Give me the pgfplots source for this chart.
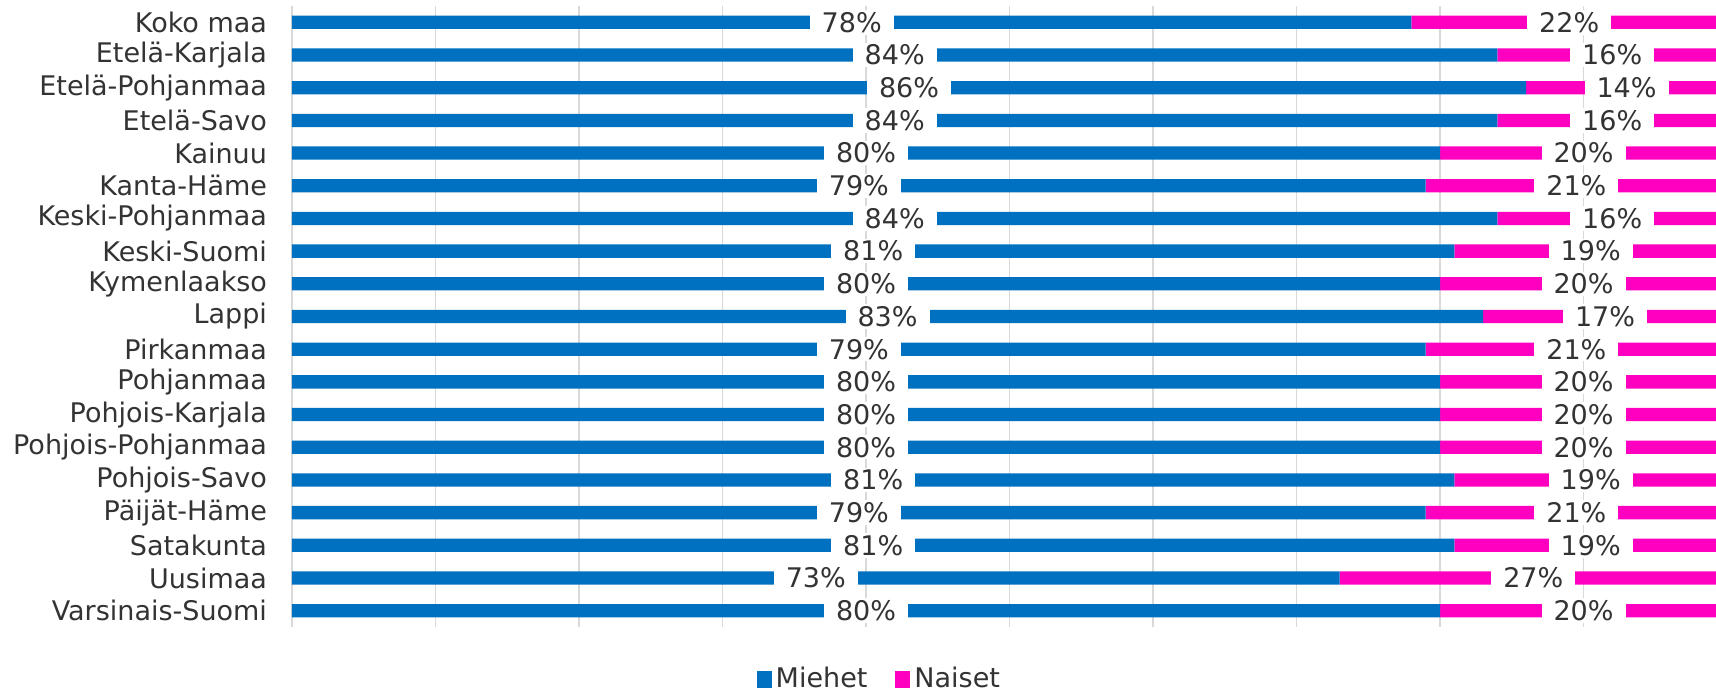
\documentclass[border=0pt]{standalone}
\usepackage{fontspec}
\setmainfont{DejaVu Sans}
\usepackage{pgfplots}
\usepackage{pgfplotstable}
\pgfplotsset{compat=1.18}

\definecolor{miehet}{HTML}{0070C0}
\definecolor{naiset}{HTML}{FF00C0}
\definecolor{gridgray}{HTML}{D9D9D9}
\definecolor{txt}{HTML}{333333}

% share of men (m) and women (n), per cent
\pgfplotstableread[col sep=comma, row sep=\\]{
y,name,m,n\\
0,Koko maa,78,22\\
1,Etelä-Karjala,84,16\\
2,Etelä-Pohjanmaa,86,14\\
3,Etelä-Savo,84,16\\
4,Kainuu,80,20\\
5,Kanta-Häme,79,21\\
6,Keski-Pohjanmaa,84,16\\
7,Keski-Suomi,81,19\\
8,Kymenlaakso,80,20\\
9,Lappi,83,17\\
10,Pirkanmaa,79,21\\
11,Pohjanmaa,80,20\\
12,Pohjois-Karjala,80,20\\
13,Pohjois-Pohjanmaa,80,20\\
14,Pohjois-Savo,81,19\\
15,Päijät-Häme,79,21\\
16,Satakunta,81,19\\
17,Uusimaa,73,27\\
18,Varsinais-Suomi,80,20\\
}\data

\begin{document}
\begin{tikzpicture}
\pgfplotsset{common/.style={
    width=717.5pt, height=310.5pt, scale only axis,
    xmin=0, xmax=100, ymin=-0.5, ymax=18.5, y dir=reverse,
    clip=false,
  },
  lbl/.style={
    only marks, mark=*, mark size=0pt, mark options={draw=none, fill=none},
    point meta=explicit,
    nodes near coords={\pgfmathprintnumber[assume math mode=true]{\pgfplotspointmeta}\%},
    every node near coord/.append style={anchor=center, fill=white,
      inner xsep=6pt, inner ysep=1pt, text=txt,
      font=\fontsize{13.5}{16}\selectfont},
  },
}
\begin{axis}[common,
    xbar stacked, bar width=6.65pt,
    xtick={0,10,...,100}, xticklabels={},
    xmajorgrids, grid style={gridgray, line width=0.75pt},
    ytick={0,...,18}, yticklabels from table={\data}{name},
    axis line style={draw=none}, major tick length=0pt,
    yticklabel style={font=\fontsize{13.5}{16}\selectfont, text=txt, xshift=-9pt},
    legend style={at={(0.41,-0.084)}, anchor=center, draw=none,
      legend columns=-1, font=\fontsize{13.5}{16}\selectfont, text=txt,
      /tikz/every even column/.append style={column sep=12pt}},
    legend image code/.code={\fill[#1] (0pt,-4.25pt) rectangle (7.5pt,4.25pt);},
  ]
  \addplot[fill=miehet, draw=none] table[x=m, y=y]{\data};
  \addplot[fill=naiset, draw=none] table[x=n, y=y]{\data};
  \legend{Miehet, Naiset}
\end{axis}
\begin{axis}[common, hide axis]
  \addplot[lbl] table[x expr=\thisrow{m}/2, y=y, meta=m]{\data};
  \addplot[lbl] table[x expr=\thisrow{m}+\thisrow{n}/2, y=y, meta=n]{\data};
\end{axis}
\pgfresetboundingbox
\path (-146pt,-32pt) rectangle (712pt,313.5pt);
\end{tikzpicture}
\end{document}
